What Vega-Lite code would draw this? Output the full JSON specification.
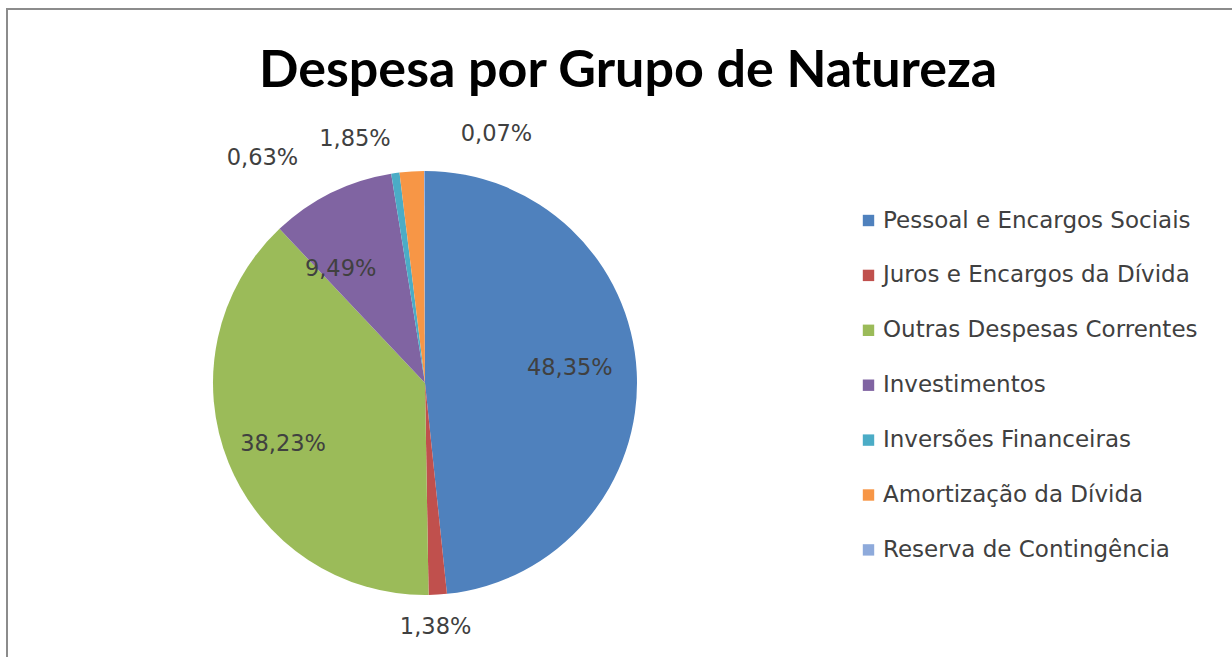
{
  "$schema": "https://vega.github.io/schema/vega-lite/v6.json",
  "autosize": {"type": "none"},
  "padding": {"left": 7, "top": 9, "right": 0, "bottom": 0},
  "width": 1225,
  "height": 648,
  "background": "white",
  "view": {"stroke": "#8c8c8c", "strokeWidth": 2, "fill": "white", "strokeDash": [1226, 1872, 650, 10]},
  "title": {
    "text": "Despesa por Grupo de Natureza",
    "font": "Lato",
    "fontWeight": "bold",
    "fontSize": 52,
    "color": "#000000",
    "anchor": "start",
    "frame": "group",
    "baseline": "alphabetic",
    "offset": -79,
    "dy": 51,
    "dx": 252
  },
  "data": {
    "values": [
      {"ordem": 1, "grupo": "Pessoal e Encargos Sociais", "valor": 48.35, "rotulo": "48,35%"},
      {"ordem": 2, "grupo": "Juros e Encargos da Dívida", "valor": 1.38, "rotulo": "1,38%"},
      {"ordem": 3, "grupo": "Outras Despesas Correntes", "valor": 38.23, "rotulo": "38,23%"},
      {"ordem": 4, "grupo": "Investimentos", "valor": 9.49, "rotulo": "9,49%"},
      {"ordem": 5, "grupo": "Inversões Financeiras", "valor": 0.63, "rotulo": "0,63%"},
      {"ordem": 6, "grupo": "Amortização da Dívida", "valor": 1.85, "rotulo": "1,85%"},
      {"ordem": 7, "grupo": "Reserva de Contingência", "valor": 0.07, "rotulo": "0,07%"}
    ]
  },
  "encoding": {
    "theta": {"field": "valor", "type": "quantitative", "stack": true},
    "order": {"field": "ordem", "type": "quantitative"}
  },
  "layer": [
    {
      "mark": {"type": "arc", "x": 418, "y": 374, "outerRadius": 212, "stroke": null},
      "encoding": {
        "color": {
          "field": "grupo",
          "type": "nominal",
          "scale": {
            "domain": ["Pessoal e Encargos Sociais", "Juros e Encargos da Dívida", "Outras Despesas Correntes", "Investimentos", "Inversões Financeiras", "Amortização da Dívida", "Reserva de Contingência"],
            "range": ["#4F81BD", "#C0504D", "#9BBB59", "#8064A2", "#4BACC6", "#F79646", "#8EAADB"]
          },
          "legend": {
            "title": null,
            "orient": "none",
            "legendX": 850,
            "legendY": 200,
            "symbolType": "square",
            "symbolSize": 130,
            "symbolStrokeWidth": 0,
            "labelFont": "DejaVu Sans",
            "labelFontSize": 23,
            "labelColor": "#404040",
            "labelOffset": 3,
            "rowPadding": 30.9,
            "labelLimit": 400,
            "padding": 0
          }
        }
      }
    },
    {
      "mark": {"type": "text", "x": 418, "y": 374, "radius": 150, "dx": -5, "dy": -7, "font": "DejaVu Sans", "fontSize": 22.5, "color": "#404040"},
      "encoding": {
        "text": {"condition": {"test": "datum.ordem == 1", "field": "rotulo"}, "value": ""}
      }
    },
    {
      "mark": {"type": "text", "x": 418, "y": 374, "radius": 150, "dx": -3, "dy": 4, "font": "DejaVu Sans", "fontSize": 22.5, "color": "#404040"},
      "encoding": {
        "text": {"condition": {"test": "datum.ordem == 3", "field": "rotulo"}, "value": ""}
      }
    },
    {
      "mark": {"type": "text", "x": 418, "y": 374, "radius": 150, "dx": -18, "dy": 21, "font": "DejaVu Sans", "fontSize": 22.5, "color": "#404040"},
      "encoding": {
        "text": {"condition": {"test": "datum.ordem == 4", "field": "rotulo"}, "value": ""}
      }
    },
    {
      "mark": {"type": "text", "x": 418, "y": 374, "radius": 242, "dx": -4, "dy": 2, "font": "DejaVu Sans", "fontSize": 22.5, "color": "#404040"},
      "encoding": {
        "text": {"condition": {"test": "datum.ordem == 2", "field": "rotulo"}, "value": ""}
      }
    },
    {
      "mark": {"type": "text", "x": 418, "y": 374, "radius": 240, "dx": -129, "dy": 13, "font": "DejaVu Sans", "fontSize": 22.5, "color": "#404040"},
      "encoding": {
        "text": {"condition": {"test": "datum.ordem == 5", "field": "rotulo"}, "value": ""}
      }
    },
    {
      "mark": {"type": "text", "x": 418, "y": 374, "radius": 240, "dx": -55, "dy": -4, "font": "DejaVu Sans", "fontSize": 22.5, "color": "#404040"},
      "encoding": {
        "text": {"condition": {"test": "datum.ordem == 6", "field": "rotulo"}, "value": ""}
      }
    },
    {
      "mark": {"type": "text", "x": 418, "y": 374, "radius": 240, "dx": 72, "dy": -9, "font": "DejaVu Sans", "fontSize": 22.5, "color": "#404040"},
      "encoding": {
        "text": {"condition": {"test": "datum.ordem == 7", "field": "rotulo"}, "value": ""}
      }
    }
  ]
}
